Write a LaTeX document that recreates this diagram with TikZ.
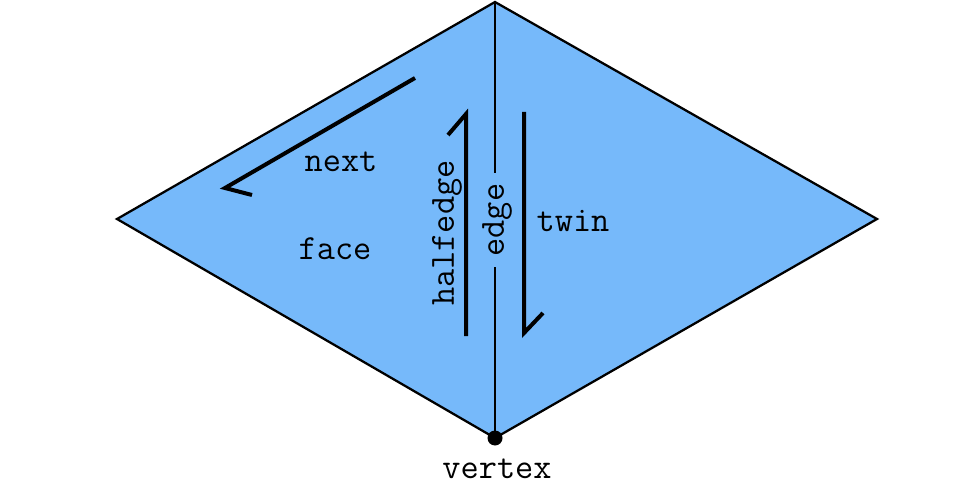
\documentclass[tikz,border=0pt]{standalone}
\usepackage{fontspec}
\definecolor{facefill}{RGB}{118,185,250}
\begin{document}
\begin{tikzpicture}[x=0.75pt,y=-0.75pt,
  lbl/.style={font=\ttfamily\fontsize{26.5}{28}\selectfont, text=black, inner sep=0pt},
  arr/.style={line width=3pt, line cap=butt, line join=miter},
  outline/.style={line width=1.7pt, draw=black}]
\useasboundingbox (0,0) rectangle (975,485);
\coordinate (T) at (495,2);
\coordinate (L) at (117,219);
\coordinate (R) at (877,219);
\coordinate (B) at (495,438);
\fill[facefill] (T) -- (R) -- (B) -- (L) -- cycle;
\draw[outline, line join=miter] (T) -- (R) -- (B) -- (L) -- cycle;
% edge label and split edge line
\node[lbl, rotate=90, inner xsep=8pt] (edge) at (497,220) {edge};
\draw[outline] (T) -- (495,0 |- edge.east);
\draw[outline] (495,0 |- edge.west) -- (B);
% vertex
\fill (B) circle (7.5);
\node[lbl, anchor=base] (vertex) at (497,478) {vertex};
% next arrow
\coordinate (n1) at (415,78);
\coordinate (n2) at (225,188);
\coordinate (n3) at (252,195);
\draw[arr] (n1) -- (n2) -- (n3);
\node[lbl] (next) at (341,162) {next};
% halfedge arrow
\coordinate (h1) at (466,336);
\coordinate (h2) at (466,114);
\coordinate (h3) at (448,135);
\draw[arr] (h1) -- (h2) -- (h3);
\node[lbl, rotate=90] (halfedge) at (447,233) {halfedge};
% twin arrow
\coordinate (t1) at (524,112);
\coordinate (t2) at (524,333);
\coordinate (t3) at (543,313);
\draw[arr] (t1) -- (t2) -- (t3);
\node[lbl] (twin) at (573,221) {twin};
\node[lbl] (face) at (335,249) {face};
\end{tikzpicture}
\end{document}
